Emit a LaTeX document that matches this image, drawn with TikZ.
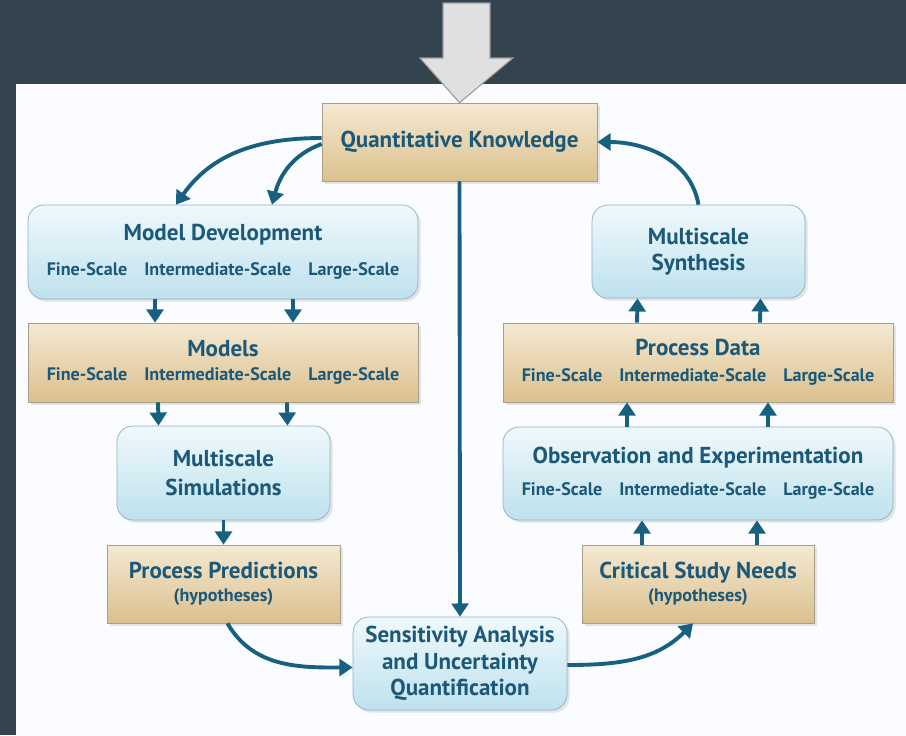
\documentclass[tikz,border=0pt]{standalone}
\usepackage{fontspec}
\setmainfont{PT Sans}
\usepackage{xcolor}
\usetikzlibrary{arrows.meta, positioning, calc, shadows}

\definecolor{bgdark}{HTML}{34444E}
\definecolor{panel}{HTML}{FAFCFF}
\definecolor{inkblue}{HTML}{1C5878}
\definecolor{arrowblue}{HTML}{17607F}
\definecolor{tantop}{HTML}{F4E9D2}
\definecolor{tanbot}{HTML}{DBC08E}
\definecolor{tanline}{HTML}{A89F8A}
\definecolor{bluetop}{HTML}{EFF9FC}
\definecolor{bluebot}{HTML}{BEE1ED}
\definecolor{blueline}{HTML}{8DB2C4}

\newcommand{\ttl}{\fontsize{13.1}{15}\selectfont\bfseries}
\newcommand{\scl}{\fontsize{10.3}{12}\selectfont\bfseries}
\newcommand{\hyp}{\fontsize{10.3}{12}\selectfont\bfseries}
\newcommand{\scales}{{\scl Fine-Scale\hspace{0.34cm}Intermediate-Scale\hspace{0.34cm}Large-Scale}}

\begin{document}
\begin{tikzpicture}[
    x=0.02cm, y=-0.02cm,
    tanbox/.style={rectangle, draw=tanline, top color=tantop, bottom color=tanbot, text=inkblue, align=center, font=\ttl, inner sep=0pt, drop shadow={shadow xshift=1.5pt, shadow yshift=-1.5pt, opacity=0.2}},
    bluebox/.style={rectangle, rounded corners=9pt, draw=blueline, top color=bluetop, bottom color=bluebot, text=inkblue, align=center, font=\ttl, inner sep=0pt, drop shadow={shadow xshift=1.5pt, shadow yshift=-1.5pt, opacity=0.2}},
    arrow/.style={-{Triangle[length=7.5pt, width=9.5pt]}, line width=2.2pt, draw=arrowblue}
]
    % Background and panel
    \useasboundingbox (0,0) rectangle (906,735);
    \fill[bgdark] (0,0) rectangle (906,735);
    \fill[panel] (16,84) rectangle (906,735);

    % Top and centre
    \node[tanbox, minimum width=5.5cm, minimum height=1.56cm] (qk) at (459.5,142) {Quantitative Knowledge};
    \node[bluebox, minimum width=4.28cm, minimum height=1.86cm] (sens) at (460,663.5) {Sensitivity Analysis\\and Uncertainty\\Quantification};

    % Left column
    \node[bluebox, minimum width=7.8cm, minimum height=1.88cm] (moddev) at (223,252) {Model Development\\[5pt]\scales};
    \node[tanbox, minimum width=7.8cm, minimum height=1.58cm] (models) at (223,362.5) {Models\\[-1pt]\scales};
    \node[bluebox, minimum width=4.26cm, minimum height=1.88cm] (msim) at (223.5,473) {Multiscale\\[1pt]Simulations};
    \node[tanbox, minimum width=4.66cm, minimum height=1.56cm] (pred) at (223.5,584) {Process Predictions\\[-2pt]{\hyp (hypotheses)}};

    % Right column
    \node[tanbox, minimum width=4.64cm, minimum height=1.56cm] (needs) at (698,584) {Critical Study Needs\\[-2pt]{\hyp (hypotheses)}};
    \node[bluebox, minimum width=7.8cm, minimum height=1.86cm] (obs) at (698,473.5) {Observation and Experimentation\\[3pt]\scales};
    \node[tanbox, minimum width=7.8cm, minimum height=1.58cm] (pdata) at (698,362.5) {Process Data\\[0pt]\scales};
    \node[bluebox, minimum width=4.26cm, minimum height=1.86cm] (synth) at (698.5,251.5) {Multiscale\\Synthesis};

    % Input arrow
    \draw[draw=black!40, fill=black!12, line width=0.6pt] (443,3) -- (490,3) -- (490,58) -- (513,58) -- (qk.north) -- (420,58) -- (443,58) -- cycle;

    % Arrows
    \draw[arrow] ([yshift=0.08cm]qk.west) to[out=180, in=55] ([xshift=-0.94cm]moddev.north);
    \draw[arrow] ([yshift=-0.04cm]qk.west) to[out=200, in=75] ([xshift=0.98cm]moddev.north);
    \draw[arrow] ([xshift=-1.36cm]moddev.south) -- ([xshift=-1.36cm]models.north);
    \draw[arrow] ([xshift=1.4cm]moddev.south) -- ([xshift=1.4cm]models.north);
    \draw[arrow] ([xshift=-1.3cm]models.south) -- ([xshift=-1.3cm]msim.north);
    \draw[arrow] ([xshift=1.28cm]models.south) -- ([xshift=1.28cm]msim.north);
    \draw[arrow] (msim.south) -- (pred.north);
    \draw[arrow] ([xshift=0.08cm]pred.south) to[out=-60, in=180] ([yshift=-0.08cm]sens.west);
    \draw[arrow] (qk.south) -- (sens.north);
    \draw[arrow] ([yshift=-0.03cm]sens.east) to[out=0, in=225] ([xshift=-0.1cm]needs.south);
    \draw[arrow] ([xshift=-1.12cm]needs.north) -- ([xshift=-1.12cm]obs.south);
    \draw[arrow] ([xshift=1.18cm]needs.north) -- ([xshift=1.18cm]obs.south);
    \draw[arrow] ([xshift=-1.42cm]obs.north) -- ([xshift=-1.42cm]pdata.south);
    \draw[arrow] ([xshift=1.4cm]obs.north) -- ([xshift=1.4cm]pdata.south);
    \draw[arrow] ([xshift=-1.22cm]pdata.north) -- ([xshift=-1.22cm]synth.south);
    \draw[arrow] ([xshift=1.24cm]pdata.north) -- ([xshift=1.24cm]synth.south);
    \draw[arrow] (synth.north) to[out=100, in=0] (qk.east);

\end{tikzpicture}
\end{document}
